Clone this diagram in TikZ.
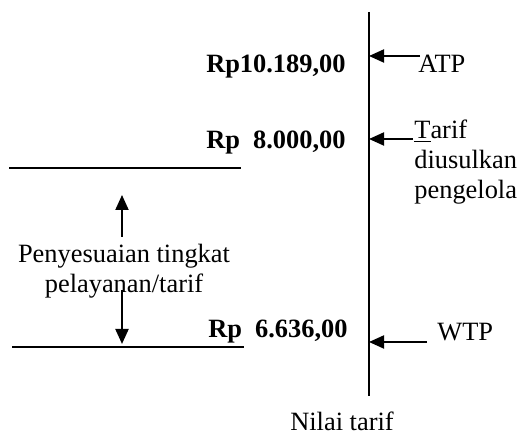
\documentclass[tikz,border=0pt]{standalone}
\usepackage{fontspec}
\setmainfont{Liberation Serif}
\usetikzlibrary{arrows.meta}
\tikzset{
  lbl/.style = {inner sep = 0pt, font = \fontsize{13.2}{15}\selectfont},
  harga/.style = {lbl, anchor = base east, font = \fontsize{13.2}{15}\selectfont\bfseries},
  panah/.style = {line width = 1pt, -{Triangle[length = 7.5pt, width = 6.5pt]}}
}
\begin{document}
\begin{tikzpicture}[x = 0.5pt, y = -0.5pt]
            \useasboundingbox (0, 0) rectangle (521, 437);
            % sumbu nilai tarif
            \coordinate (atas) at (369, 12);
            \coordinate (bawah) at (369, 396);
            \draw[line width = 1pt] (atas) -- (bawah);
            \node[lbl, anchor = base] (nilai) at (342, 431) {Nilai tarif};
            % harga
            \node[harga] (atp harga) at (346, 73) {Rp10.189,00};
            \node[harga] (usul harga) at (346, 149) {Rp\ \ 8.000,00};
            \node[harga] (wtp harga) at (348, 338) {Rp\ \ 6.636,00};
            % keterangan kanan
            \node[lbl, anchor = base west] (atp) at (418, 73) {ATP};
            \node[lbl, anchor = north west, align = left] (usul) at (414, 120) {\underline{T}arif\\diusulkan\\pengelola};
            \node[lbl, anchor = base west] (wtp) at (437, 341) {WTP};
            \foreach \nama/\x/\y in {atp/420/56, usul/413/139, wtp/427/342} {
                \coordinate (\nama a) at (\x, \y);
                \coordinate (\nama b) at (369, \y);
                \draw[panah] (\nama a) -- (\nama b);
            };
            % garis batas kiri
            \coordinate (g1a) at (9, 168);
            \coordinate (g1b) at (241, 168);
            \coordinate (g2a) at (12, 347);
            \coordinate (g2b) at (244, 347);
            \draw[line width = 1pt] (g1a) -- (g1b);
            \draw[line width = 1pt] (g2a) -- (g2b);
            \node[lbl, anchor = north, align = center] (sesuai) at (124, 244) {Penyesuaian tingkat\\pelayanan/tarif};
            \coordinate (naik a) at (122, 237);
            \coordinate (naik b) at (122, 195);
            \coordinate (turun a) at (122, 290);
            \coordinate (turun b) at (122, 344);
            \draw[panah] (naik a) -- (naik b);
            \draw[panah] (turun a) -- (turun b);
        \end{tikzpicture}
\end{document}
